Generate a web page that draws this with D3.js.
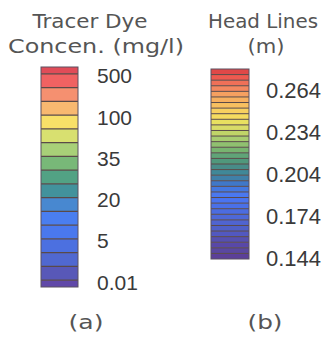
<!DOCTYPE html>
<html lang="en">
<head>
  <meta charset="UTF-8">
  <title>Colour legends</title>
  <script src="https://d3js.org/d3.v7.min.js"></script>
  <style>
      body { margin: 0; padding: 0; background: #fff; overflow: hidden; }
      svg { display: block; }
      .title { font-family: 'DejaVu Sans', sans-serif; fill: #555; }
      .tick { font-family: 'Liberation Sans', Arial, sans-serif; fill: #3a3a3a; }
  </style>
</head>
<body>
  <svg width="334" height="339"></svg>
  <script>
      // (a) tracer dye concentration legend, bands top to bottom
      const concLabels = ["500", "100", "35", "20", "5", "0.01"];
      const concColors = ["#e04c58", "#f06262", "#f59070", "#f8b870", "#f8e068", "#d8e070",
                          "#a8d078", "#78b878", "#52a284", "#42929c", "#4888d0", "#4a7ef0",
                          "#4a78ee", "#4c70e0", "#5068d0", "#5858b8", "#6048a8"];

      // (b) head lines legend (m), bands top to bottom
      const headTicks = [0.264, 0.234, 0.204, 0.174, 0.144];
      const headExtent = [0.143, 0.279];
      const headColors = ["#e04848", "#ee5a50", "#f07058", "#f48860", "#f5a060", "#f6b060",
                          "#f7c060", "#f8d060", "#f6dc60", "#e8e060", "#d8dc68", "#c0d468",
                          "#a8cc70", "#90c070", "#78b470", "#60a478", "#50987c", "#488c88",
                          "#408898", "#4080a8", "#4078c8", "#4478e0", "#4a78f0", "#4a74f0",
                          "#4a70e8", "#4c6ce0", "#4e68d8", "#5064d0", "#5060c8", "#5258c0",
                          "#5650b0", "#5848a8", "#5a48a0", "#5c4098"];

      const svg = d3.select("svg");

      // ---- legend (a) ----
      const nA = concColors.length;
      // boundary index scale, half bands at both ends
      const yA = d3.scaleLinear().domain([-0.5, nA - 1.5]).range([67, 287]);
      const gA = svg.append("g");

      gA.selectAll("rect.band")
          .data(concColors)
          .enter().append("rect")
          .attr("class", "band")
          .attr("x", 41)
          .attr("width", 37)
          .attr("y", (d, i) => yA(Math.max(-0.5, i - 1)))
          .attr("height", (d, i) => yA(Math.min(nA - 1.5, i)) - yA(Math.max(-0.5, i - 1)))
          .attr("fill", d => d);

      gA.selectAll("line.sep")
          .data(d3.range(0, nA - 1))
          .enter().append("line")
          .attr("x1", 41).attr("x2", 78)
          .attr("y1", d => yA(d)).attr("y2", d => yA(d))
          .attr("stroke", "#5a4a48").attr("stroke-width", 1.2);

      gA.append("rect")
          .attr("x", 41).attr("y", yA(-0.5))
          .attr("width", 37).attr("height", yA(nA - 1.5) - yA(-0.5))
          .attr("fill", "none").attr("stroke", "#5a5060").attr("stroke-width", 1);

      gA.selectAll("text.tick")
          .data(concLabels)
          .enter().append("text")
          .attr("class", "tick")
          .attr("x", 97)
          .attr("y", (d, i) => yA(i * 3) + 9.5)
          .attr("font-size", 21)
          .text(d => d);

      // ---- legend (b) ----
      const yB = d3.scaleLinear().domain(headExtent).range([259, 69]);
      const bandB = d3.scaleBand().domain(d3.range(headColors.length)).range([69, 259]);
      const gB = svg.append("g");

      gB.selectAll("rect.band")
          .data(headColors)
          .enter().append("rect")
          .attr("x", 211)
          .attr("width", 38)
          .attr("y", (d, i) => bandB(i))
          .attr("height", bandB.bandwidth())
          .attr("fill", d => d);

      gB.selectAll("line.sep")
          .data(d3.range(1, headColors.length))
          .enter().append("line")
          .attr("x1", 211).attr("x2", 249)
          .attr("y1", d => bandB(d)).attr("y2", d => bandB(d))
          .attr("stroke", "#5a4a48").attr("stroke-width", 1);

      gB.append("rect")
          .attr("x", 211).attr("y", 69)
          .attr("width", 38).attr("height", 190)
          .attr("fill", "none").attr("stroke", "#5a5060").attr("stroke-width", 1);

      gB.selectAll("text.tick")
          .data(headTicks)
          .enter().append("text")
          .attr("class", "tick")
          .attr("x", 266)
          .attr("y", d => yB(d) + 8)
          .attr("font-size", 22)
          .text(d => d3.format(".3f")(d));

      // ---- titles ----
      const titles = [
          { text: "Tracer Dye", x: 90, y: 28, len: 115 },
          { text: "Concen. (mg/l)", x: 96, y: 53, len: 176 },
          { text: "Head Lines", x: 263, y: 28, len: 110 },
          { text: "(m)", x: 266, y: 53, len: 37 },
          { text: "(a)", x: 86, y: 329, len: 35 },
          { text: "(b)", x: 265, y: 329, len: 35 }
      ];
      svg.selectAll("text.title")
          .data(titles)
          .enter().append("text")
          .attr("class", "title")
          .attr("x", d => d.x)
          .attr("y", d => d.y)
          .attr("text-anchor", "middle")
          .attr("font-size", 20)
          .attr("textLength", d => d.len)
          .attr("lengthAdjust", "spacingAndGlyphs")
          .text(d => d.text);
  </script>
</body>
</html>
